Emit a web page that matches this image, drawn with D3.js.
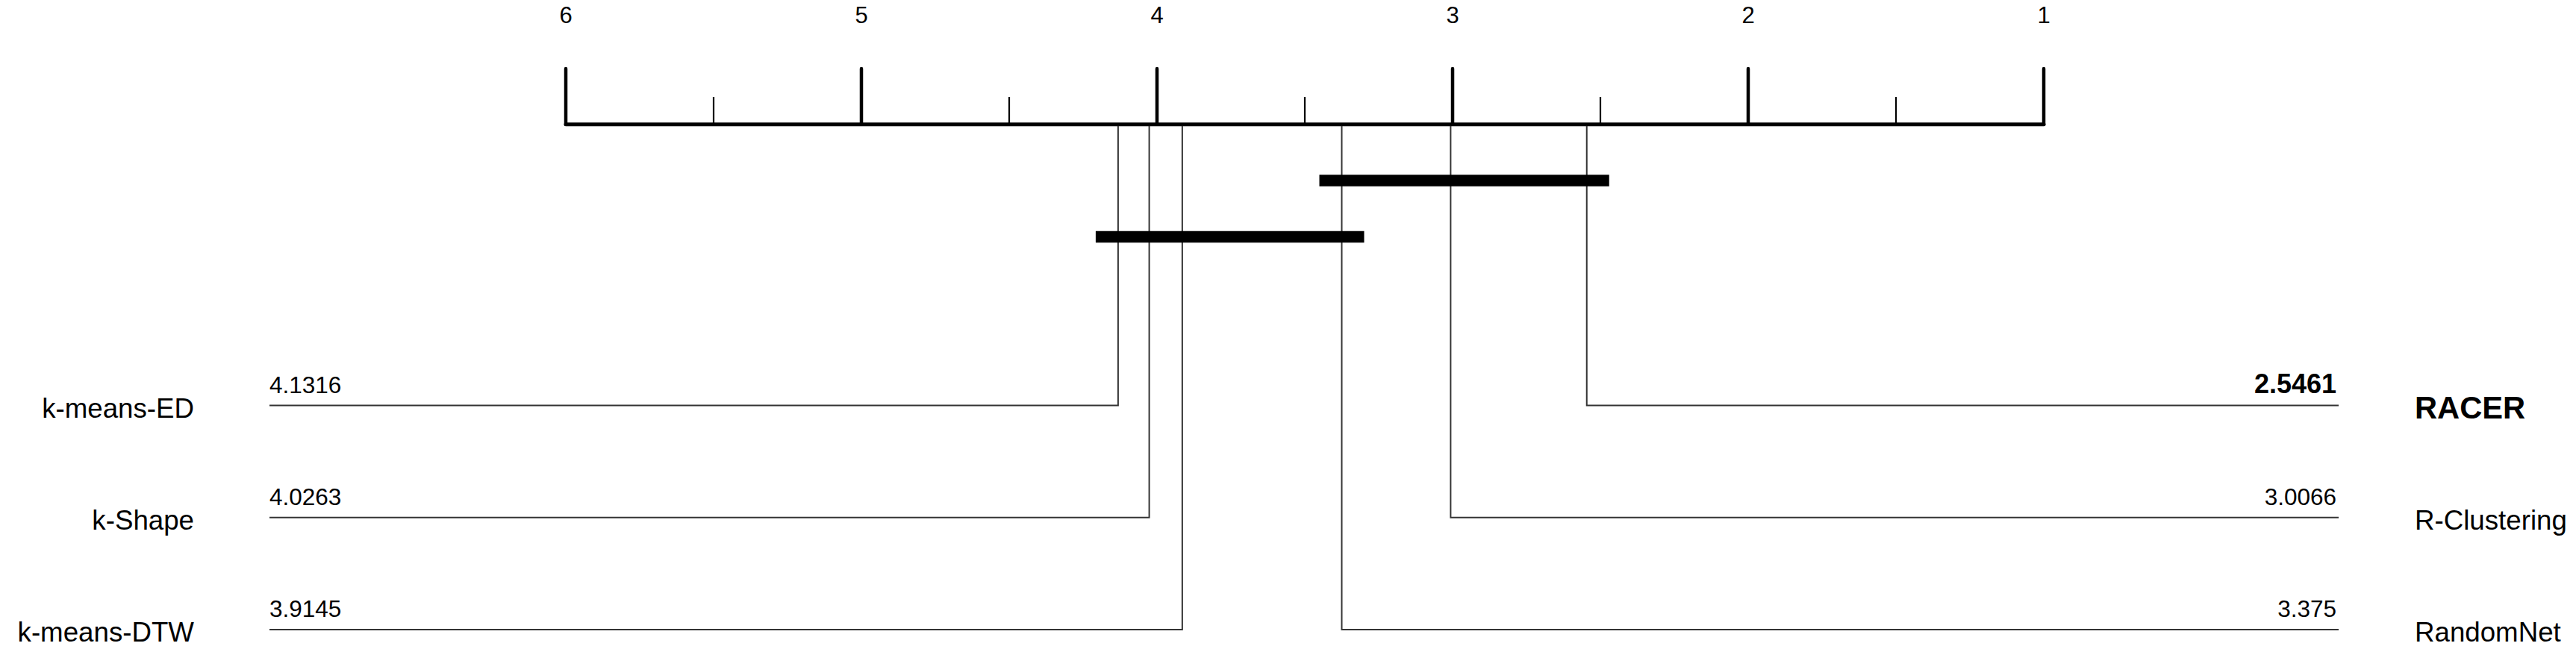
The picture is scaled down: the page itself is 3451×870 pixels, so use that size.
<!DOCTYPE html>
<html>
<head>
<meta charset="utf-8">
<script src="https://cdn.jsdelivr.net/npm/d3@7"></script>
<style>
  html, body { margin: 0; padding: 0; background: #fff; }
  svg { display: block; }
  text { font-family: "Liberation Sans", Arial, sans-serif; fill: #000; }
</style>
</head>
<body>
<svg id="chart" width="3451" height="870"></svg>
<script>
// ---- data ----
const methods = ["k-means-ED", "k-Shape", "k-means-DTW", "RACER", "R-Clustering", "RandomNet"];
const avgRanks = [4.1316, 4.0263, 3.9145, 2.5461, 3.0066, 3.375];
const side = ["left", "left", "left", "right", "right", "right"];
const rowIndex = [0, 1, 2, 0, 1, 2];
const bestMethod = "RACER";
const majorTicks = [6, 5, 4, 3, 2, 1];
const minorTicks = [5.5, 4.5, 3.5, 2.5, 1.5];
const cliqueA = ["RandomNet", "R-Clustering", "RACER"];
const cliqueB = ["k-means-ED", "k-Shape", "k-means-DTW", "RandomNet"];
const cliques = [cliqueA, cliqueB];

// ---- layout ----
const svg = d3.select("#chart");
const x = d3.scaleLinear().domain([6, 1]).range([758, 2738]);
const axisY = 166.7;
const rowY = d3.scaleLinear().domain([0, 2]).range([543.5, 844]);
const cliqueY = d3.scaleLinear().domain([0, 1]).range([242, 317.5]);
const lineLeft = 361, lineRight = 3133;
const rankOf = Object.fromEntries(methods.map((m, i) => [m, avgRanks[i]]));

// axis baseline
svg.append("line")
  .attr("x1", x(6)).attr("x2", x(1))
  .attr("y1", axisY).attr("y2", axisY)
  .attr("stroke", "#000").attr("stroke-width", 5).attr("stroke-linecap", "round");

// major ticks
svg.selectAll(".major").data(majorTicks).enter().append("line")
  .attr("x1", d => x(d)).attr("x2", d => x(d))
  .attr("y1", 92).attr("y2", axisY)
  .attr("stroke", "#000").attr("stroke-width", 4.5).attr("stroke-linecap", "round");

// minor ticks
svg.selectAll(".minor").data(minorTicks).enter().append("line")
  .attr("x1", d => x(d)).attr("x2", d => x(d))
  .attr("y1", 130).attr("y2", axisY)
  .attr("stroke", "#000").attr("stroke-width", 2.2);

// tick labels
svg.selectAll(".tlab").data(majorTicks).enter().append("text")
  .attr("x", d => x(d)).attr("y", 30.5)
  .attr("text-anchor", "middle")
  .attr("font-size", 31)
  .text(d => d);

// method connectors
methods.forEach((m, i) => {
  const r = avgRanks[i];
  const yy = rowY(rowIndex[i]);
  const xr = x(r);
  const isLeft = side[i] === "left";
  const bold = m === bestMethod;
  svg.append("path")
    .attr("d", isLeft
      ? `M${xr},${axisY + 2} L${xr},${yy} L${lineLeft},${yy}`
      : `M${xr},${axisY + 2} L${xr},${yy} L${lineRight},${yy}`)
    .attr("fill", "none").attr("stroke", "#333").attr("stroke-width", 2);
  svg.append("text")
    .attr("x", isLeft ? lineLeft : lineRight - 3)
    .attr("y", yy - 17)
    .attr("text-anchor", isLeft ? "start" : "end")
    .attr("font-size", bold ? 36 : 31.5)
    .attr("font-weight", bold ? "bold" : "normal")
    .text(String(r));
  svg.append("text")
    .attr("x", isLeft ? 260 : 3235)
    .attr("y", yy + (bold ? 17.5 : 16))
    .attr("text-anchor", isLeft ? "end" : "start")
    .attr("font-size", bold ? 41.7 : 36.7)
    .attr("font-weight", bold ? "bold" : "normal")
    .text(m);
});

// clique bars
cliques.forEach((c, k) => {
  const rs = c.map(m => rankOf[m]);
  const lo = d3.max(rs), hi = d3.min(rs);
  svg.append("line")
    .attr("x1", x(lo) - 30).attr("x2", x(hi) + 30)
    .attr("y1", cliqueY(k)).attr("y2", cliqueY(k))
    .attr("stroke", "#000").attr("stroke-width", 15.5);
});
</script>
</body>
</html>
